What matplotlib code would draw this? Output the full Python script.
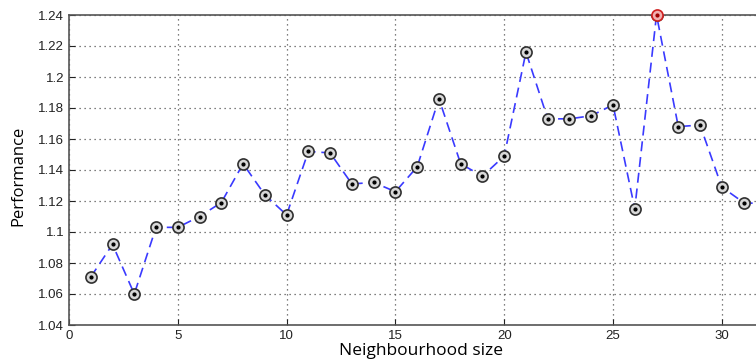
import numpy as np
import matplotlib.pyplot as plt

sizes = np.arange(1, 33)
perf = [1.071, 1.092, 1.060, 1.103, 1.103, 1.110, 1.119, 1.144, 1.124, 1.111,
        1.152, 1.151, 1.131, 1.132, 1.126, 1.142, 1.186, 1.144, 1.136, 1.149,
        1.216, 1.173, 1.173, 1.175, 1.182, 1.115, 1.240, 1.168, 1.169, 1.129,
        1.119, 1.118]
best_size = 27
best_perf = 1.240

plt.rcParams['font.family'] = ['Liberation Sans', 'DejaVu Sans']

fig = plt.figure(figsize=(7.56, 3.64), dpi=100)
# axes runs off the right edge, like the cropped original
ax = fig.add_axes([69 / 756, 39 / 364, 35 * 21.76 / 756, 310 / 364])

ax.plot(sizes, perf, color='#3a3aff', linestyle=(0, (6, 3.5)), linewidth=1.2, zorder=2)
ax.plot(sizes, perf, linestyle='none', marker='o', markersize=8,
        markerfacecolor='#d8d8d8', markeredgecolor='#303030', markeredgewidth=1.2, zorder=3)
ax.plot(sizes, perf, linestyle='none', marker='.', markersize=4, color='black', zorder=4)
ax.plot([best_size], [best_perf], linestyle='none', marker='o', markersize=8,
        markerfacecolor='#f0b0b0', markeredgecolor='#d02020', markeredgewidth=1.2,
        zorder=5, clip_on=False)
ax.plot([best_size], [best_perf], linestyle='none', marker='.', markersize=4,
        color='#a00000', zorder=6, clip_on=False)

ax.set_xlim(0, 35)
ax.set_ylim(1.04, 1.24)
ax.set_xticks([0, 5, 10, 15, 20, 25, 30])
ax.set_yticks(np.arange(1.04, 1.2401, 0.02))
ax.set_yticklabels(['1.04', '1.06', '1.08', '1.1', '1.12', '1.14', '1.16',
                    '1.18', '1.2', '1.22', '1.24'])
ax.tick_params(direction='in', labelsize=9.5, colors='#222222', length=4)
ax.grid(True, linestyle=(0, (1, 3)), color='#555555', linewidth=0.9)
for s in ax.spines.values():
    s.set_color('#555555')
    s.set_linewidth(1.2)

ax.set_xlabel('Neighbourhood size', fontsize=12.5, family=['Open Sans', 'DejaVu Sans'])
ax.xaxis.set_label_coords((421 - 69) / (35 * 21.76), -0.058)
ax.set_ylabel('Performance', fontsize=12, family=['Open Sans', 'DejaVu Sans'])
ax.yaxis.set_label_coords(-0.056, 0.48)

fig.savefig('out.png', dpi=100)
